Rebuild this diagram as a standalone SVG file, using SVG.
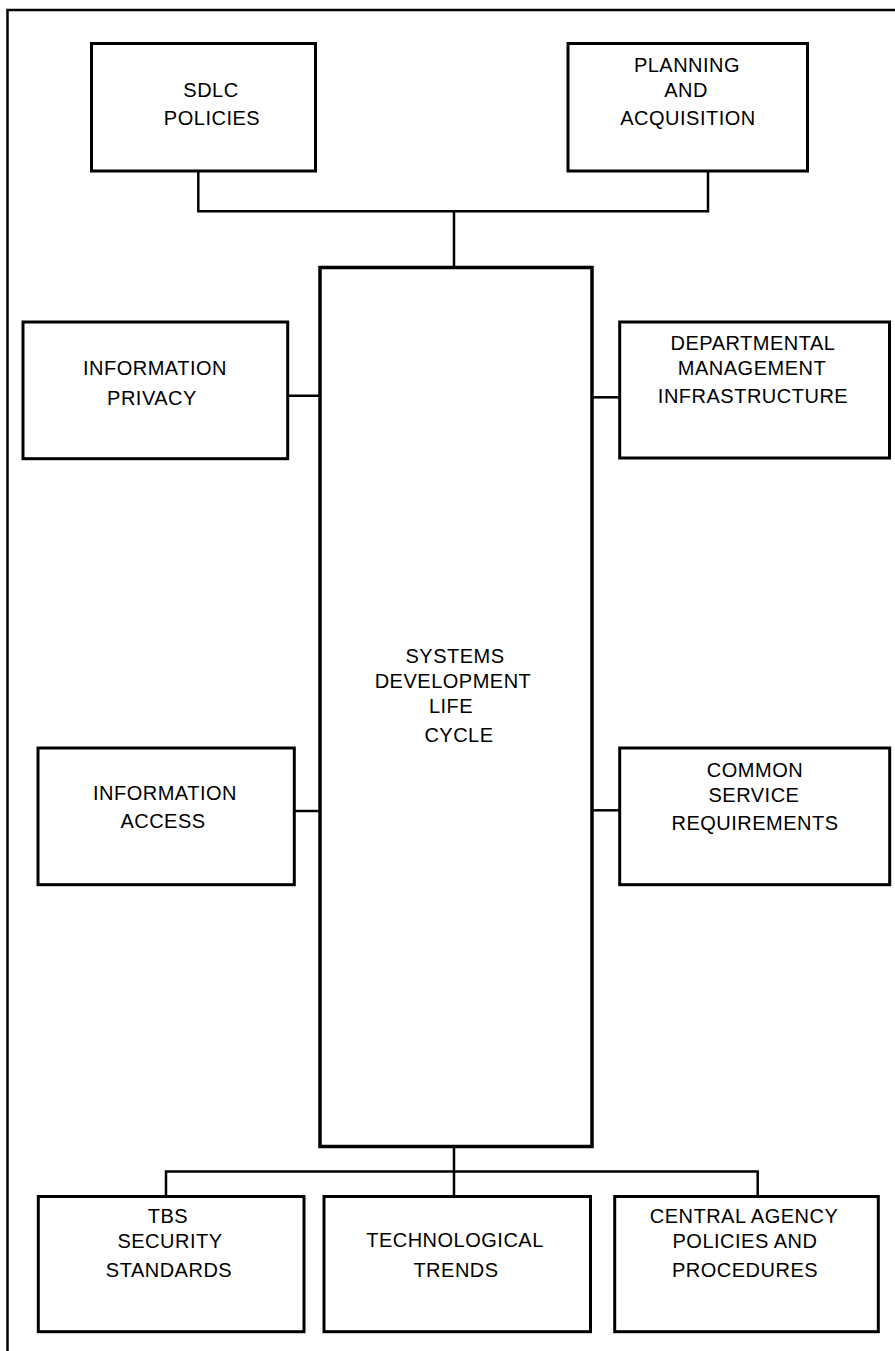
<svg xmlns="http://www.w3.org/2000/svg" width="895" height="1351" viewBox="0 0 895 1351">
<style>
.box{fill:#fff;stroke:#000;stroke-width:3}
.main{fill:#fff;stroke:#000;stroke-width:3.5}
.con{fill:none;stroke:#000;stroke-width:2.5}
.frame{fill:none;stroke:#000;stroke-width:2.5}
text{font-family:"Liberation Sans",Arial,sans-serif;font-size:20px;fill:#000;text-anchor:middle;letter-spacing:0.5px}
</style>
<rect width="895" height="1351" fill="#fff"/>
<path class="frame" d="M7.5 1351 V10 H895"/>
<g id="connectors">
<path class="con" d="M198.3 171 V211.3 H708 V171"/>
<path class="con" d="M454 211.3 V267.5"/>
<path class="con" d="M287.7 395.7 H320"/>
<path class="con" d="M592 397.3 H619.7"/>
<path class="con" d="M294.3 811 H321.5"/>
<path class="con" d="M592 810.3 H619.7"/>
<path class="con" d="M454 1146.5 V1196.5"/>
<path class="con" d="M166 1196.5 V1171.5 H757.7 V1196.5"/>
</g>
<g id="sdlc-policies">
<rect class="box" x="91.5" y="43.5" width="224" height="127.5"/>
<text x="211" y="97">SDLC</text>
<text x="212" y="125">POLICIES</text>
</g>
<g id="planning-acquisition">
<rect class="box" x="568" y="43.5" width="239.5" height="127.5"/>
<text x="687" y="72">PLANNING</text>
<text x="686" y="97">AND</text>
<text x="688" y="125">ACQUISITION</text>
</g>
<g id="information-privacy">
<rect class="box" x="23" y="322" width="264.7" height="136.7"/>
<text x="155" y="375">INFORMATION</text>
<text x="152" y="405">PRIVACY</text>
</g>
<g id="departmental-management">
<rect class="box" x="619.7" y="322" width="269.8" height="136"/>
<text x="753" y="350">DEPARTMENTAL</text>
<text x="752" y="375">MANAGEMENT</text>
<text x="753" y="403">INFRASTRUCTURE</text>
</g>
<g id="sdlc-main">
<rect class="main" x="320" y="267.5" width="272" height="879"/>
<text x="455" y="663">SYSTEMS</text>
<text x="453" y="688">DEVELOPMENT</text>
<text x="451" y="713">LIFE</text>
<text x="459" y="742">CYCLE</text>
</g>
<g id="information-access">
<rect class="box" x="38" y="748" width="256.3" height="136.7"/>
<text x="165" y="800">INFORMATION</text>
<text x="163" y="828">ACCESS</text>
</g>
<g id="common-service">
<rect class="box" x="619.7" y="748" width="270" height="136.7"/>
<text x="755" y="777">COMMON</text>
<text x="754" y="802">SERVICE</text>
<text x="755" y="830">REQUIREMENTS</text>
</g>
<g id="tbs-security">
<rect class="box" x="38.3" y="1196.5" width="265.7" height="135.2"/>
<text x="168" y="1223">TBS</text>
<text x="170" y="1248">SECURITY</text>
<text x="169" y="1277">STANDARDS</text>
</g>
<g id="technological-trends">
<rect class="box" x="324" y="1196.5" width="266.5" height="135.2"/>
<text x="455" y="1247">TECHNOLOGICAL</text>
<text x="456" y="1277">TRENDS</text>
</g>
<g id="central-agency">
<rect class="box" x="614.7" y="1196.5" width="263.6" height="135.2"/>
<text x="744" y="1223">CENTRAL AGENCY</text>
<text x="745" y="1248">POLICIES AND</text>
<text x="745" y="1277">PROCEDURES</text>
</g>
</svg>
